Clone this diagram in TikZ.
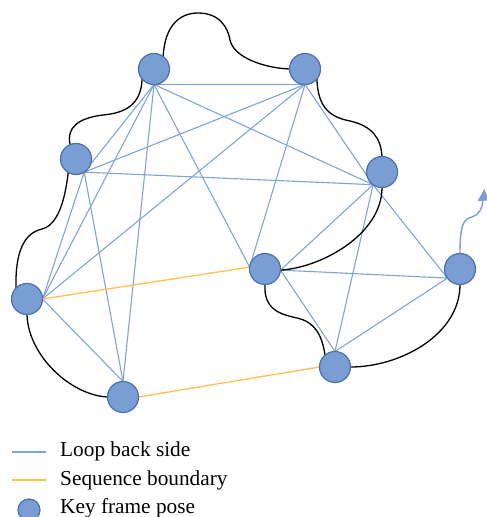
\documentclass[tikz,border=0pt]{standalone}
\usepackage{fontspec}
\setmainfont{Liberation Serif}
\usetikzlibrary{arrows.meta,backgrounds}
\definecolor{nodefill}{HTML}{7A9ED4}
\definecolor{nodeline}{HTML}{4A70B0}
\definecolor{loopblue}{HTML}{7FA3DA}
\definecolor{seqorange}{HTML}{FFC04F}
\begin{document}
\begin{tikzpicture}[x=1pt,y=-1pt,
 kf/.style={circle,fill=nodefill,draw=nodeline,line width=1.2pt,minimum size=31pt,inner sep=0pt,outer sep=0pt},
 loopln/.style={draw=loopblue,line width=1.1pt},
 seqb/.style={draw=seqorange,line width=1.3pt},
 traj/.style={draw=black,line width=1.3pt},
 lab/.style={anchor=base west,inner sep=0pt,font=\fontsize{21.3}{25}\selectfont}]
\useasboundingbox (0,0) rectangle (487,517);
\node[kf] (A) at (154,69) {};
\node[kf] (B) at (305,69) {};
\node[kf] (C) at (76,159) {};
\node[kf] (D) at (382,172) {};
\node[kf] (E) at (265,269) {};
\node[kf] (F) at (460,269) {};
\node[kf] (G) at (27,299) {};
\node[kf] (H) at (335,367) {};
\node[kf] (I) at (123,397) {};
\coordinate (T) at (484.5,189);
\coordinate (Tb) at (483,200);
\begin{scope}[on background layer]
% loop back sides
\draw[loopln] (A.south) -- (B.south);
\draw[loopln] (A.south) -- (C.-58);
\draw[loopln] (A.south) -- (G.east);
\draw[loopln] (A.south) -- (I.north);
\draw[loopln] (A.south) -- (E.173);
\draw[loopln] (A.south) -- (D.-125);
\draw[loopln] (B.south) -- (C.-58);
\draw[loopln] (B.south) -- (G.east);
\draw[loopln] (B.south) -- (E.173);
\draw[loopln] (B.south) -- (D.-125);
\draw[loopln] (C.-58) -- (D.-125);
\draw[loopln] (C.-58) -- (G.east);
\draw[loopln] (C.-58) -- (I.north);
\draw[loopln] (G.east) -- (I.north);
\draw[loopln] (D.-125) -- (E.-4);
\draw[loopln] (D.-125) -- (F.-144);
\draw[loopln] (D.-125) -- (H.north);
\draw[loopln] (E.-4) -- (F.-144);
\draw[loopln] (E.-4) -- (H.north);
\draw[loopln] (F.-144) -- (H.north);
% sequence boundaries
\draw[seqb] (G.east) -- (E.173);
\draw[seqb] (I.east) -- (H.west);
% trajectory
\draw[traj] (A.54) .. controls (165,25) and (180,13) .. (198,13)
  .. controls (220,13) and (228,28) .. (230,40)
  .. controls (234,58) and (265,68) .. (B.180);
\draw[traj] (B.-40) .. controls (318,108) and (330,117) .. (350,121)
  .. controls (372,126) and (381,138) .. (D.north);
\draw[traj] (A.-140) .. controls (141,105) and (125,113) .. (103,115)
  .. controls (78,118) and (66,128) .. (C.112);
\draw[traj] (C.-120) .. controls (65,200) and (58,225) .. (42,229)
  .. controls (25,233) and (15,250) .. (G.135);
\draw[traj] (G.south) .. controls (28,355) and (70,395) .. (I.west);
\draw[traj] (D.south) .. controls (382,235) and (320,268) .. (E.-4);
\draw[traj] (E.south) .. controls (263,312) and (285,315) .. (297,318)
  .. controls (315,322) and (322,335) .. (H.130);
\draw[traj] (H.east) .. controls (400,367) and (460,335) .. (F.south);
\draw[draw=nodefill,line width=1.4pt]
  (F.north) .. controls (460,226) and (463,219) .. (472,217)
  .. controls (479,215) and (482,209) .. (Tb);
\fill[nodefill] (T) -- (477.5,201) -- (488.5,200.5) -- cycle;
\end{scope}
% legend
\coordinate (l1a) at (12,452); \coordinate (l1b) at (46,452);
\coordinate (l2a) at (12,480); \coordinate (l2b) at (46,480);
\draw[loopln] (l1a) -- (l1b);
\draw[seqb] (l2a) -- (l2b);
\node[kf,minimum size=22pt] (lk) at (29,510) {};
\node[lab] (t1) at (60,456.7) {Loop back side};
\node[lab] (t2) at (60,485) {Sequence boundary};
\node[lab] (t3) at (60,513) {Key frame pose};
\end{tikzpicture}
\end{document}
